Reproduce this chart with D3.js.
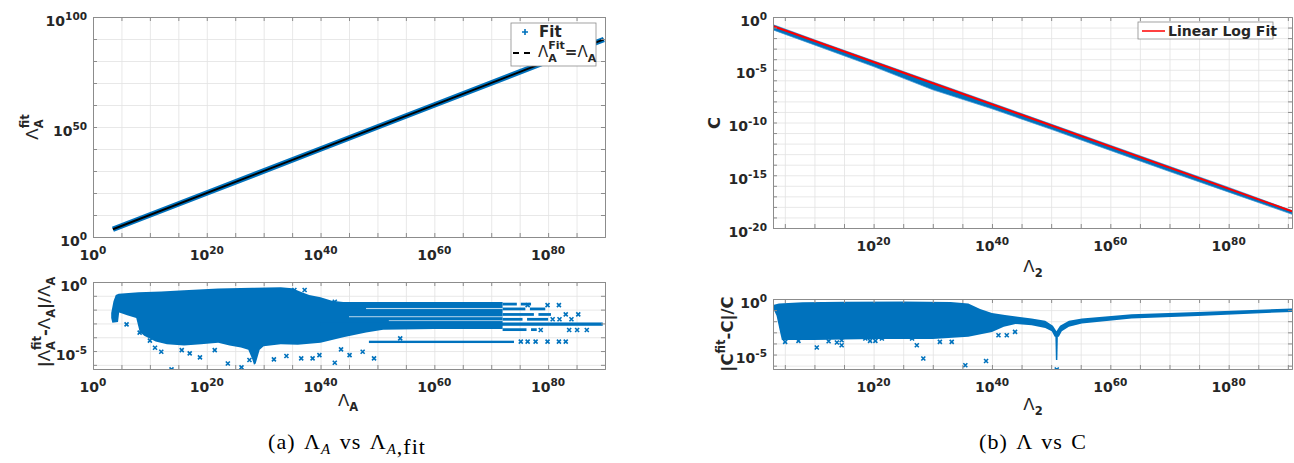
<!DOCTYPE html>
<html>
<head>
<meta charset="utf-8">
<script src="https://cdn.jsdelivr.net/npm/d3@7"></script>
<style>
body { margin: 0; background: #fff; }
svg text { font-family: "DejaVu Sans", sans-serif; fill: #262626; }
.tl { font-weight: bold; font-size: 14px; }
.lab { font-weight: bold; font-size: 16.5px; }
.cap { font-family: "Liberation Serif", serif; font-size: 22px; fill: #000; letter-spacing: 1px; word-spacing: 2px; }
</style>
</head>
<body>
<script>
// all values are log10 exponents

// axis limits and tick labels
const lamADomain = [0, 90];
const lamFitDomain = [0, 100];
const errDomain = [-6.3, 0];
const lam2Domain = [3, 90.7];
const cDomain = [-20, 0];
const lamATicks = [0, 20, 40, 60, 80];
const lam2Ticks = [20, 40, 60, 80];
const fitYTicks = [0, 50, 100];
const errYTicks = [0, -5];
const cYTicks = [0, -5, -10, -15, -20];

// (a) top: fitted vs true Lambda_A
const fitLamA = [3.5, 20, 40, 60, 80, 89.8];
const fitLamAFit = [3.5, 20, 40, 60, 80, 89.8];
const identityLine = [3.5, 89.8];

// (a) bottom: relative error cloud outline [lamA, err]
const errACloud = [
  [3.2, -2.25], [3.6, -1.4], [4.0, -0.95], [4.5, -0.85], [8, -0.75], [12, -0.68], [16, -0.6],
  [22, -0.47], [28, -0.42], [33, -0.38], [35, -0.45], [36.5, -0.7], [38, -0.95], [40, -1.1],
  [42, -1.35], [44, -1.45], [72, -1.45],
  [72, -3.4], [60, -3.4], [51, -3.45], [48, -3.65], [44, -4.0], [42, -4.2], [40, -4.4], [36, -4.55],
  [33, -4.5], [30, -4.65], [29.3, -4.9], [28.6, -5.9], [28.3, -6.0], [28.0, -5.6], [27.3, -4.9],
  [26, -4.75], [24, -4.6], [22, -4.4], [19, -4.5], [16, -4.6], [13, -4.5], [11, -4.3], [9, -3.9],
  [8.2, -3.6], [7.6, -2.6], [6, -2.4], [4.6, -2.2], [4.4, -2.9], [3.4, -2.95], [3.2, -2.6]
];
// horizontal streaks [lamA from, lamA to, err top, err bottom]
const errAStreaks = [
  [40, 89.6, -2.93, -3.17],
  [48.5, 74, -4.25, -4.42],
  [72, 74.5, -1.5, -1.7], [75.2, 77, -1.5, -1.7],
  [72, 76, -1.85, -2.05], [76.8, 79.5, -1.85, -2.05],
  [72, 77.5, -2.25, -2.45], [78.3, 80.5, -2.25, -2.45],
  [72, 75.5, -2.6, -2.8], [76.3, 80, -2.6, -2.8],
  [72, 76.2, -3.35, -3.55], [77, 78, -3.35, -3.55]
];
// thin white gaps inside the dense part
const errAGaps = [
  [48, 72, -1.88, -1.96],
  [45, 72, -2.48, -2.55],
  [52, 72, -2.77, -2.83]
];
const errAOutliers = [
  [5.9, -3.07], [8.2, -3.67], [10.0, -4.25], [10.9, -4.76], [12.0, -5.05], [13.8, -6.33],
  [15.6, -4.93], [17.0, -5.17], [18.8, -5.46], [21.4, -4.93], [23.7, -5.9], [26.1, -6.18],
  [27.5, -5.65], [31.8, -5.6], [34.0, -5.36], [36.6, -5.53], [38.6, -5.53], [39.8, -5.3],
  [42.5, -5.85], [43.6, -4.88], [45.1, -5.3], [47.4, -5.05], [49.4, -5.53], [54.0, -4.08],
  [35.4, -0.58], [37.2, -0.58], [42.5, -1.43],
  [76.4, -1.67], [79.9, -1.67], [81.9, -1.67], [83.1, -2.34], [85.3, -2.34], [80.8, -2.7],
  [82.0, -2.7], [84.1, -2.7], [78.7, -3.48], [83.7, -3.48], [85.1, -3.48], [86.8, -3.48],
  [75.2, -4.32], [76.4, -4.32], [77.8, -4.32], [79.9, -4.32], [81.9, -4.32], [83.1, -4.32]
];

// (b) top: C against Lambda_2
const cLam = [2.9, 10, 20, 30, 40, 50, 60, 70, 80, 90.7];
const cHigh = [-0.7, -2.15, -4.15, -6.15, -8.15, -10.15, -12.15, -14.15, -16.15, -18.35];
const cLow = [-1.2, -2.65, -4.7, -6.9, -8.7, -10.65, -12.65, -14.65, -16.6, -18.7];
const cFitLam = [2.9, 90.7];
const cFitC = [-0.85, -18.42];

// (b) bottom: relative error of C
const errCCloud = [
  [3.0, -0.55], [4, -0.4], [8, -0.3], [15, -0.25], [25, -0.22], [33, -0.28], [36, -0.4],
  [38, -0.9], [40, -1.25], [42.2, -1.45], [46.7, -1.75], [49, -1.95], [50.3, -2.4], [50.9, -2.9],
  [51.5, -2.4], [53, -1.95], [55.2, -1.75], [63.6, -1.37], [74.8, -1.16], [90.7, -0.86],
  [90.7, -1.16], [74.8, -1.52], [63.6, -1.76], [55.2, -2.2], [53, -2.5], [51.8, -2.9], [51.3, -3.4],
  [50.6, -3.4], [50.1, -2.9], [49, -2.6], [46.7, -2.36], [44, -2.25], [42, -2.5], [40, -2.96],
  [36, -3.4], [30, -3.6], [20, -3.6], [10, -3.7], [4.5, -3.7], [4.2, -3.0], [3.6, -1.5], [3.0, -0.8]
];
const errCSpike = [[50.7, -3.0], [51.15, -3.0], [51.05, -5.5], [50.8, -5.5]];
const errCOutliers = [
  [5.05, -3.86], [7.3, -3.77], [10.4, -4.37], [12.4, -3.8], [13.8, -3.92], [14.6, -3.71],
  [14.6, -4.16], [18.6, -3.56], [19.4, -3.77], [20.3, -3.77], [21.4, -3.56], [26.5, -3.56],
  [27.3, -4.16], [28.4, -5.36], [31.2, -3.86], [33.2, -3.86], [35.5, -5.96], [39.0, -5.58],
  [41.1, -3.26], [42.5, -3.26], [43.9, -2.96], [50.95, -6.35]
];

const blue = "#0072bd";
const svg = d3.select("body").append("svg").attr("width", 1294).attr("height", 463);

// write text with tex-like pieces: {t, sup, sub, back, it, w, dy}
function rich(sel, parts, supSize, subSize) {
  let pending = 0;
  parts.forEach(p => {
    const ts = sel.append("tspan").text(p.t);
    if (p.it) ts.style("font-style", "italic");
    if (p.w) ts.style("font-weight", p.w);
    if (p.sup) { ts.style("font-size", supSize + "px").attr("dy", -p.sup); }
    else if (p.sub) { ts.style("font-size", subSize + "px").attr("dy", p.sub); }
    if (p.back) {
      const prev = sel.selectAll("tspan").nodes();
      const last = prev[prev.length - 2];
      ts.attr("dx", -last.getComputedTextLength());
      pending = last.getComputedTextLength() - ts.node().getComputedTextLength();
    } else if (pending > 0) {
      ts.attr("dx", pending);
      pending = 0;
    }
    if (p.dy !== undefined) ts.attr("dy", p.dy);
  });
}

function makePanel(id, box, xDom, yDom, xTicks, yTicks, xStep, yStep) {
  const x = d3.scaleLog().domain(xDom.map(e => 10 ** e)).range([box.l, box.r]);
  const y = d3.scaleLog().domain(yDom.map(e => 10 ** e)).range([box.b, box.t]);
  const w = box.r - box.l, h = box.b - box.t;
  const g = svg.append("g");
  const xGrid = d3.range(Math.ceil(xDom[0] / xStep) * xStep, xDom[1] + 1e-9, xStep).map(e => 10 ** e);
  const yGrid = d3.range(Math.ceil(yDom[0] / yStep) * yStep, yDom[1] + 1e-9, yStep).map(e => 10 ** e);

  g.append("rect").attr("x", box.l).attr("y", box.t).attr("width", w).attr("height", h).attr("fill", "#fff");

  const grid = g.append("g");
  grid.append("g").attr("transform", "translate(0," + box.b + ")")
    .call(d3.axisBottom(x).tickValues(xGrid).tickSize(-h).tickFormat(""));
  grid.append("g").attr("transform", "translate(" + box.l + ",0)")
    .call(d3.axisLeft(y).tickValues(yGrid).tickSize(-w).tickFormat(""));
  grid.selectAll(".domain").remove();
  grid.selectAll("line").attr("stroke", "#e2e2e2").attr("stroke-width", 0.8);

  svg.append("clipPath").attr("id", "clip" + id).append("rect")
    .attr("x", box.l).attr("y", box.t).attr("width", w).attr("height", h);
  const data = g.append("g").attr("clip-path", "url(#clip" + id + ")");

  const frame = g.append("g");
  const tk = 4;
  frame.append("g").attr("transform", "translate(0," + box.b + ")").call(d3.axisBottom(x).tickValues(xGrid).tickSize(-tk).tickFormat(""));
  frame.append("g").attr("transform", "translate(0," + box.t + ")").call(d3.axisTop(x).tickValues(xGrid).tickSize(-tk).tickFormat(""));
  frame.append("g").attr("transform", "translate(" + box.l + ",0)").call(d3.axisLeft(y).tickValues(yGrid).tickSize(-tk).tickFormat(""));
  frame.append("g").attr("transform", "translate(" + box.r + ",0)").call(d3.axisRight(y).tickValues(yGrid).tickSize(-tk).tickFormat(""));
  frame.selectAll(".domain").attr("stroke", "#8c8c8c");
  frame.selectAll("line").attr("stroke", "#8c8c8c");

  // tick labels 10^n
  xTicks.forEach(e => {
    const t = frame.append("text").attr("class", "tl").attr("text-anchor", "middle")
      .attr("x", x(10 ** e)).attr("y", box.b + 23);
    rich(t, [{ t: "10" }, { t: String(e), sup: 6 }], 10.5, 10.5);
  });
  yTicks.forEach(e => {
    const t = frame.append("text").attr("class", "tl").attr("text-anchor", "end")
      .attr("x", box.l - 6).attr("y", y(10 ** e) + 8.5);
    rich(t, [{ t: "10" }, { t: String(e), sup: 6 }], 10.5, 10.5);
  });

  const P = p => [x(10 ** p[0]), y(10 ** p[1])];
  return { x, y, data, frame, P };
}

function xMarks(sel, pts, P) {
  sel.selectAll(null).data(pts).enter().append("path")
    .attr("d", "M-2,-2L2,2M-2,2L2,-2")
    .attr("transform", d => "translate(" + P(d) + ")")
    .attr("stroke", blue).attr("stroke-width", 1.6).attr("fill", "none");
}

function strips(sel, rows, pan, color) {
  sel.selectAll(null).data(rows).enter().append("rect")
    .attr("x", d => pan.x(10 ** d[0])).attr("width", d => pan.x(10 ** d[1]) - pan.x(10 ** d[0]))
    .attr("y", d => pan.y(10 ** d[2])).attr("height", d => pan.y(10 ** d[3]) - pan.y(10 ** d[2]))
    .attr("fill", color);
}

const line = d3.line();

// ---------- (a) top ----------
const a1 = makePanel("a1", { l: 93, r: 605, t: 17, b: 237 }, lamADomain, lamFitDomain, lamATicks, fitYTicks, 5, 10);
const fitPts = fitLamA.map((v, i) => [v, fitLamAFit[i]]);
a1.data.append("path").attr("d", line(fitPts.map(a1.P)))
  .attr("fill", "none").attr("stroke", blue).attr("stroke-width", 5.5);
a1.data.append("path").attr("d", line(identityLine.map(v => a1.P([v, v]))))
  .attr("fill", "none").attr("stroke", "#000").attr("stroke-width", 2);

{
  const lg = a1.frame.append("g");
  lg.append("rect").attr("x", 511).attr("y", 23).attr("width", 85).attr("height", 43)
    .attr("fill", "#fff").attr("stroke", "#8c8c8c").attr("stroke-width", 0.8);
  lg.append("path").attr("d", "M522,32h6M525,29v6").attr("stroke", blue).attr("stroke-width", 1.6);
  lg.append("text").attr("class", "tl").attr("x", 539).attr("y", 37).style("font-size", "15px").text("Fit");
  lg.append("path").attr("d", "M513,53h18").attr("stroke", "#000").attr("stroke-width", 2).attr("stroke-dasharray", "6,5");
  const t = lg.append("text").attr("class", "tl").attr("x", 538).attr("y", 57).style("font-size", "15px");
  rich(t, [{ t: "Λ", w: "normal" }, { t: "Fit", sup: 8 }, { t: "A", sub: 13, back: true }, { t: "=", dy: -5 },
    { t: "Λ", w: "normal" }, { t: "A", sub: 5 }], 11, 11);
}
a1.frame.append("text").attr("class", "lab").attr("transform", "translate(38,127) rotate(-90)").attr("text-anchor", "middle")
  .call(t => rich(t, [{ t: "Λ", w: "normal" }, { t: "fit", sup: 9 }, { t: "A", sub: 14, back: true }], 11.5, 11.5));

// ---------- (a) bottom ----------
const a2 = makePanel("a2", { l: 93, r: 605, t: 282, b: 369 }, lamADomain, errDomain, lamATicks, errYTicks, 5, 1);
a2.data.append("path").attr("d", line(errACloud.map(a2.P)) + "Z").attr("fill", blue);
strips(a2.data, errAStreaks, a2, blue);
strips(a2.data, errAGaps, a2, "rgba(255,255,255,0.75)");
xMarks(a2.data, errAOutliers, a2.P);
a2.frame.append("text").attr("class", "lab").attr("transform", "translate(50,322) rotate(-90)").attr("text-anchor", "middle")
  .call(t => rich(t, [{ t: "|" }, { t: "Λ", w: "normal" }, { t: "fit", sup: 9 }, { t: "A", sub: 14, back: true },
    { t: "-", dy: -5 }, { t: "Λ", w: "normal" }, { t: "A", sub: 5 }, { t: "|/", dy: -5 }, { t: "Λ", w: "normal" }, { t: "A", sub: 5 }], 11.5, 11.5));
a2.frame.append("text").attr("class", "lab").attr("x", 348).attr("y", 406).attr("text-anchor", "middle")
  .call(t => rich(t, [{ t: "Λ", w: "normal" }, { t: "A", sub: 5 }], 11.5, 11.5));

// ---------- (b) top ----------
const b1 = makePanel("b1", { l: 773, r: 1292, t: 17, b: 228 }, lam2Domain, cDomain, lam2Ticks, cYTicks, 5, 1);
const band = cLam.map((v, i) => [v, cHigh[i]]).concat(cLam.map((v, i) => [v, cLow[i]]).reverse());
b1.data.append("path").attr("d", line(band.map(b1.P)) + "Z").attr("fill", blue).attr("stroke", "#3a93d4").attr("stroke-width", 0.7);
b1.data.append("path").attr("d", line(cFitLam.map((v, i) => b1.P([v, cFitC[i]]))))
  .attr("fill", "none").attr("stroke", "#ff0000").attr("stroke-width", 2);
{
  const lg = b1.frame.append("g");
  lg.append("rect").attr("x", 1138).attr("y", 22).attr("width", 135).attr("height", 17)
    .attr("fill", "#fff").attr("stroke", "#8c8c8c").attr("stroke-width", 0.8);
  lg.append("path").attr("d", "M1142,31h23").attr("stroke", "#ff0000").attr("stroke-width", 1.5);
  lg.append("text").attr("class", "tl").attr("x", 1168).attr("y", 35.5).text("Linear Log Fit");
}
b1.frame.append("text").attr("class", "lab").attr("x", 720).attr("y", 123).attr("transform", "rotate(-90,720,123)")
  .attr("text-anchor", "middle").text("C");
b1.frame.append("text").attr("class", "lab").attr("x", 1033).attr("y", 272).attr("text-anchor", "middle")
  .call(t => rich(t, [{ t: "Λ", w: "normal" }, { t: "2", sub: 5 }], 11.5, 11.5));

// ---------- (b) bottom ----------
const b2 = makePanel("b2", { l: 773, r: 1292, t: 299, b: 369 }, lam2Domain, errDomain, lam2Ticks, errYTicks, 5, 1);
b2.data.append("path").attr("d", line(errCCloud.map(b2.P)) + "Z").attr("fill", blue);
b2.data.append("path").attr("d", line(errCSpike.map(b2.P)) + "Z").attr("fill", blue);
xMarks(b2.data, errCOutliers, b2.P);
b2.frame.append("text").attr("class", "lab").attr("transform", "translate(733,334) rotate(-90)").attr("text-anchor", "middle")
  .call(t => rich(t, [{ t: "|C" }, { t: "fit", sup: 8 }, { t: "-C|/C", dy: 8 }], 11.5, 11.5));
b2.frame.append("text").attr("class", "lab").attr("x", 1033).attr("y", 410).attr("text-anchor", "middle")
  .call(t => rich(t, [{ t: "Λ", w: "normal" }, { t: "2", sub: 5 }], 11.5, 11.5));

// ---------- captions ----------
svg.append("text").attr("class", "cap").attr("x", 347).attr("y", 449).attr("text-anchor", "middle")
  .call(t => rich(t, [{ t: "(a) Λ" }, { t: "A", sub: 5, it: true }, { t: " vs Λ", dy: -5 },
    { t: "A", sub: 5, it: true }, { t: ",fit" }], 15, 15));
svg.append("text").attr("class", "cap").attr("x", 1033).attr("y", 449).attr("text-anchor", "middle")
  .text("(b) Λ vs C");
</script>
</body>
</html>
